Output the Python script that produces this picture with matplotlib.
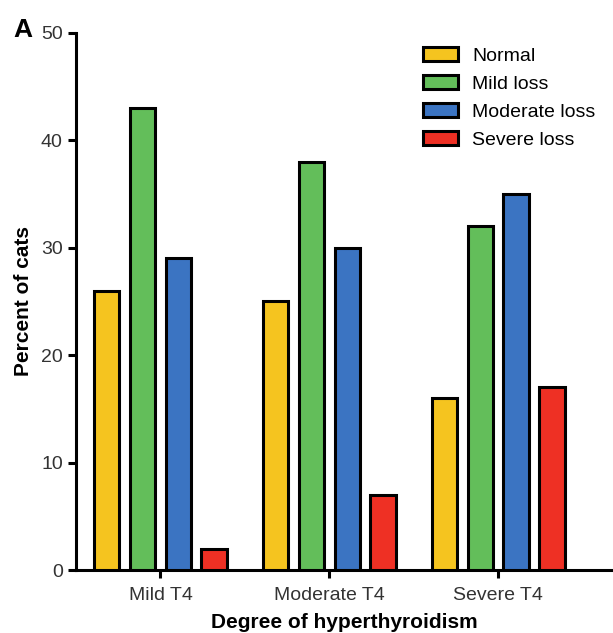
import matplotlib
matplotlib.use("Agg")
import matplotlib.pyplot as plt
import numpy as np

groups = ["Mild T4", "Moderate T4", "Severe T4"]
series = ["Normal", "Mild loss", "Moderate loss", "Severe loss"]
normal = [26, 25, 16]
mild_loss = [43, 38, 32]
moderate_loss = [29, 30, 35]
severe_loss = [2, 7, 17]
colors = ["#F5C41F", "#63BE5A", "#3B74C2", "#EE3024"]

plt.rcParams["font.family"] = ["Liberation Sans", "DejaVu Sans"]
fig = plt.figure(figsize=(6.13, 6.33), dpi=100)
ax = fig.add_axes([0.124, 0.0995, 0.876, 0.8485])

x = np.arange(len(groups))
pitch, width = 0.212, 0.15
for i, (name, vals) in enumerate(zip(series, [normal, mild_loss, moderate_loss, severe_loss])):
    ax.bar(x + (i - 1.5) * pitch, vals, width, color=colors[i], edgecolor="black",
           linewidth=2.2, label=name, zorder=3)

ax.set_xlim(-0.5, 2.68)
ax.set_ylim(0, 50)
ax.set_yticks([0, 10, 20, 30, 40, 50])
ax.set_xticks(x)
ax.set_xticklabels(groups)
for s in ["top", "right"]:
    ax.spines[s].set_visible(False)
for s in ["left", "bottom"]:
    ax.spines[s].set_linewidth(2.2)
ax.tick_params(width=2.2, length=6, labelsize=14, colors="black", labelcolor="#333333")
ax.tick_params(axis="x", pad=6)
ax.set_ylabel("Percent of cats", fontsize=15, fontweight="bold", labelpad=6)
ax.set_xlabel("Degree of hyperthyroidism", fontsize=15, fontweight="bold", labelpad=6.5)

leg = ax.legend(loc="upper right", bbox_to_anchor=(1.0, 1.006), frameon=False,
                fontsize=14, handlelength=1.8, handleheight=0.75, handletextpad=0.75,
                labelspacing=0.52)
fig.text(0.022, 0.941, "A", fontsize=19, fontweight="bold")

fig.savefig("out.png", dpi=100)
